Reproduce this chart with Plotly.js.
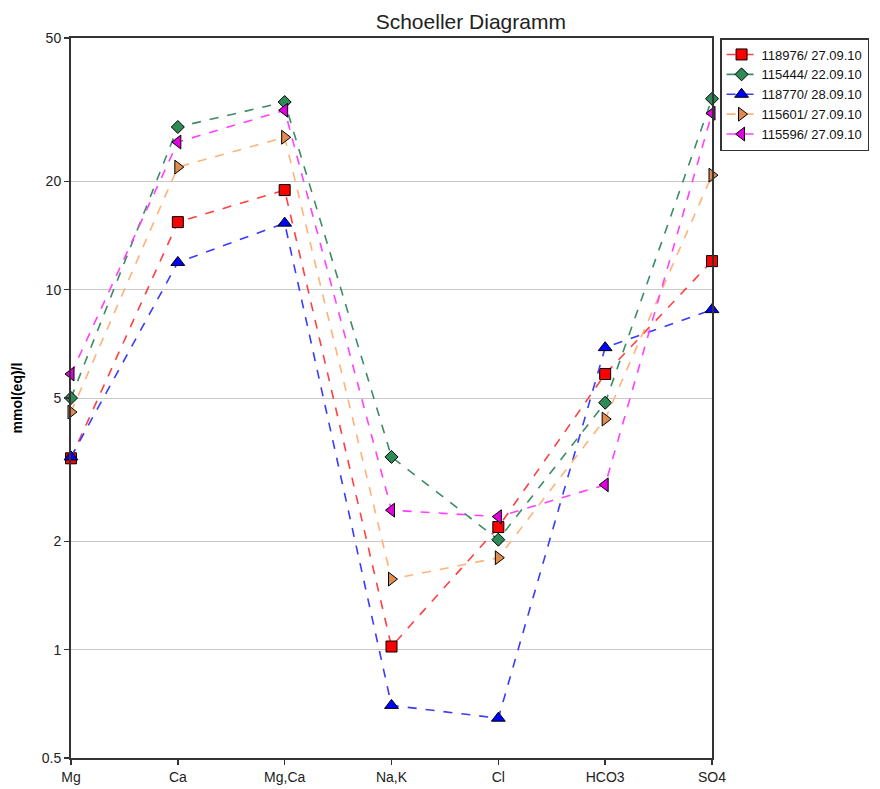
<!DOCTYPE html>
<html><head><meta charset="utf-8">
<script src="https://cdn.plot.ly/plotly-3.0.1.min.js"></script>
<style>body{margin:0;background:#fff}#c{width:880px;height:789px}</style>
</head><body><div id="c"></div>
<script>
var categories = ["Mg","Ca","Mg,Ca","Na,K","Cl","HCO3","SO4"];
var names = ["118976/ 27.09.10","115444/ 22.09.10","118770/ 28.09.10","115601/ 27.09.10","115596/ 27.09.10"];
var s118976 = [3.4, 15.4, 18.9, 1.02, 2.19, 5.83, 12.0];
var s115444 = [5.0, 28.3, 33.2, 3.43, 2.02, 4.85, 33.9];
var s118770 = [3.43, 11.9, 15.3, 0.70, 0.645, 6.9, 8.8];
var s115601 = [4.57, 21.9, 26.5, 1.57, 1.80, 4.37, 20.8];
var s115596 = [5.83, 25.7, 31.5, 2.44, 2.34, 2.87, 30.9];
var yTicks = [0.5, 1, 2, 5, 10, 20, 50];

var series = [s118976, s115444, s118770, s115601, s115596];
var lineColors = ["#ff4040", "#3c8c64", "#3a3aff", "#ffb27a", "#ff40ff"];
var fillColors = ["#ff0000", "#2e8b57", "#0000ff", "#e08c50", "#e000e0"];
var symbols = ["square", "diamond", "triangle-up", "triangle-right", "triangle-left"];
var sizes = [11, 10, 12, 12, 12];

var traces = series.map(function(v, i){
  return {
    x: categories, y: v, name: names[i], type: "scatter", mode: "lines+markers",
    cliponaxis: false,
    line: {color: lineColors[i], width: 1.6, dash: "dash"},
    marker: {symbol: symbols[i], size: sizes[i], color: fillColors[i], line: {color: "#000", width: 1}}
  };
});

var layout = {
  width: 880, height: 789,
  margin: {l: 71, r: 167, t: 38, b: 31},
  paper_bgcolor: "#fff", plot_bgcolor: "#fff",
  font: {family: "Liberation Sans, Arial, sans-serif", color: "#000", size: 14},
  title: {text: "Schoeller Diagramm", font: {size: 21, color: "#222"}, x: 0.535, xanchor: "center", y: 0.972, yanchor: "middle"},
  xaxis: {
    type: "category", range: [0, 6], showgrid: false, zeroline: false,
    showline: true, linecolor: "#333", linewidth: 2, mirror: true,
    ticks: "outside", ticklen: 5, tickcolor: "#333", tickwidth: 1.5,
    tickfont: {size: 14, color: "#222"}
  },
  yaxis: {
    type: "log", range: [Math.log10(0.5), Math.log10(50)],
    tickvals: yTicks, ticktext: yTicks.map(String),
    showgrid: true, gridcolor: "#c8c8c8", gridwidth: 1, zeroline: false,
    showline: true, linecolor: "#333", linewidth: 2, mirror: true,
    ticks: "outside", ticklen: 5, tickcolor: "#333", tickwidth: 1.5,
    tickfont: {size: 14, color: "#222"},
    title: {text: "<b>mmol(eq)/l</b>", font: {size: 14}, standoff: 16}
  },
  showlegend: true,
  legend: {
    x: 1.011, y: 1.0, xanchor: "left", yanchor: "top",
    bordercolor: "#333", borderwidth: 1.5, bgcolor: "#fff",
    font: {size: 13, color: "#111"}, tracegroupgap: 0, itemwidth: 30
  }
};
Plotly.newPlot("c", traces, layout, {displayModeBar: false, staticPlot: true});
</script>
</body></html>
